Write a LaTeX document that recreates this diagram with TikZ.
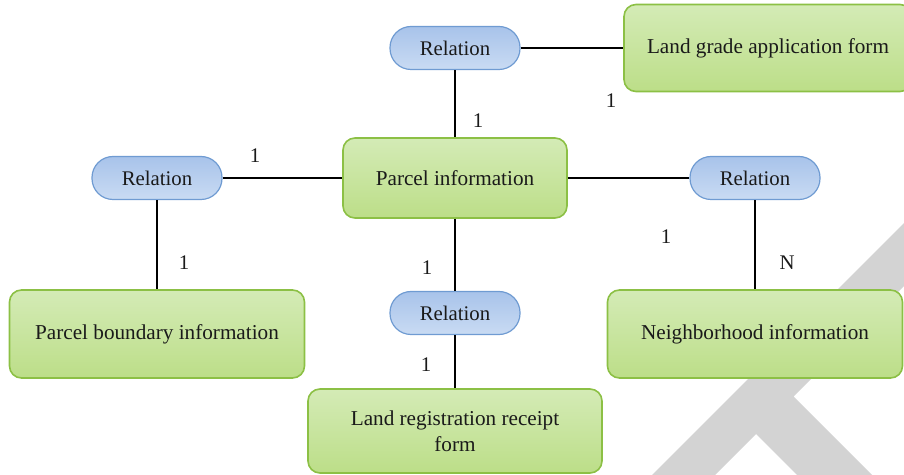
\documentclass[tikz,border=0pt]{standalone}
\usepackage{fontspec}
\setmainfont{Liberation Serif}
\usepackage{xcolor}
\usetikzlibrary{positioning}
\definecolor{greentop}{HTML}{D4EBB6}
\definecolor{greenbot}{HTML}{BCDE88}
\definecolor{greenline}{HTML}{8CC045}
\definecolor{bluetop}{HTML}{A8C3EA}
\definecolor{bluebot}{HTML}{C9DBF3}
\definecolor{blueline}{HTML}{6F9BD2}
\definecolor{markgray}{HTML}{D3D3D3}
\definecolor{inkblack}{HTML}{1A1A1A}
\tikzset{
    entity/.style={
        rectangle,
        rounded corners=6pt,
        draw=greenline,
        line width=0.8pt,
        top color=greentop,
        bottom color=greenbot,
        minimum width=147.5pt,
        minimum height=44pt,
        align=center,
        text=inkblack,
        font=\fontsize{10.6}{13}\selectfont
    },
    relation/.style={
        rectangle,
        rounded corners=10.5pt,
        draw=blueline,
        line width=0.6pt,
        top color=bluetop,
        bottom color=bluebot,
        minimum width=65pt,
        minimum height=21.5pt,
        text=inkblack,
        font=\fontsize{10.4}{12}\selectfont
    },
    link/.style={
        draw=black,
        line width=0.6pt
    },
    card/.style={
        inner sep=0pt,
        text=inkblack,
        font=\fontsize{10.4}{12}\selectfont
    }
}

\begin{document}
\begin{tikzpicture}[x=0.5pt, y=-0.5pt]

\useasboundingbox (0,0) rectangle (904,475);

% watermark
\fill[markgray] (652,475) -- (950,177) -- (950,240) -- (793.5,396.5) -- (872,475)
    -- (797,475) -- (756,434) -- (715,475) -- cycle;

\node[entity, minimum width=112pt, minimum height=40pt] (pinfo) at (455,178) {Parcel information};
\node[entity, minimum width=144pt, minimum height=43.5pt] (grade) at (768,48) {Land grade application form};
\node[entity] (bound) at (157,334) {Parcel boundary information};
\node[entity] (neigh) at (755,334) {Neighborhood information};
\node[entity, minimum width=147pt, minimum height=42pt] (receipt) at (455,431) {Land registration receipt\\form};

\node[relation] (rtop) at (455,48) {Relation};
\node[relation] (rleft) at (157,178) {Relation};
\node[relation] (rright) at (755,178) {Relation};
\node[relation] (rbot) at (455,313) {Relation};

\draw[link] (rtop) -- (grade);
\draw[link] (rtop) -- (pinfo);
\draw[link] (rleft) -- (pinfo);
\draw[link] (rleft) -- (bound);
\draw[link] (pinfo) -- (rright);
\draw[link] (rright) -- (neigh);
\draw[link] (pinfo) -- (rbot);
\draw[link] (rbot) -- (receipt);

\node[card] (c1) at (611,101) {1};
\node[card] (c2) at (478,121) {1};
\node[card] (c3) at (255,156) {1};
\node[card] (c4) at (184,263) {1};
\node[card] (c5) at (666,237) {1};
\node[card] (c6) at (787,263) {N};
\node[card] (c7) at (427,268) {1};
\node[card] (c8) at (426,365) {1};

\end{tikzpicture}
\end{document}
